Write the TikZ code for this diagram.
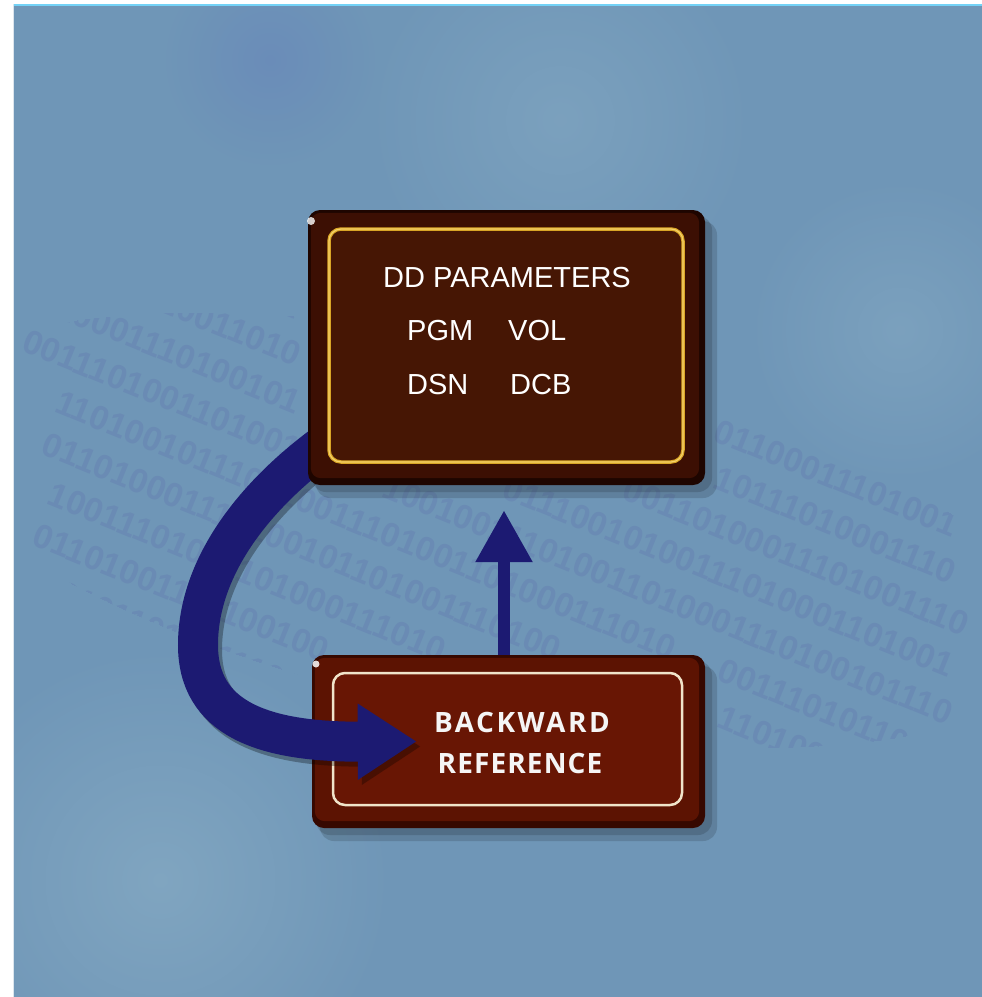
\documentclass[tikz,border=0pt]{standalone}
\usepackage{fontspec}
\setmainfont{Liberation Sans}
\newfontfamily\plaquewide[LetterSpace=9]{Open Sans}
\newfontfamily\plaquenarrow[LetterSpace=4]{Open Sans}
\usetikzlibrary{arrows.meta}

\definecolor{bgblue}{HTML}{6F96B7}
\definecolor{bglight}{HTML}{80A5C0}
\definecolor{bgdark}{HTML}{6A8CB8}
\definecolor{digitc}{HTML}{6A8BB4}
\definecolor{navy}{HTML}{1C1A72}
\definecolor{tbedge}{HTML}{1E0500}
\definecolor{tbface}{HTML}{3C0F03}
\definecolor{tbinner}{HTML}{461604}
\definecolor{gold}{HTML}{D9A526}
\definecolor{goldhi}{HTML}{F5D26A}
\definecolor{bbedge}{HTML}{360800}
\definecolor{bbface}{HTML}{5C1302}
\definecolor{bbinner}{HTML}{681604}
\definecolor{cream}{HTML}{F0E4CA}

\pgfdeclarelayer{front}
\pgfsetlayers{main,front}

% y of binary row #1 at abscissa #2
\newcommand{\rowy}[2]{540+40.8*#1+0.4045*(#2-(520-16.5*#1))}

\begin{document}
\begin{tikzpicture}[x=1pt,y=-1pt,
  plaque/.style={rounded corners=12pt, inner sep=0pt},
  bigarrow/.style={draw=navy, line width=40pt, -{Triangle[length=59pt,width=72pt]}},
  smallarrow/.style={draw=navy, line width=12pt, -{Triangle[length=52pt,width=54pt]}},
  plain/.style={text=white, inner sep=0pt, font=\fontsize{29}{29}\selectfont},
  plaquetext/.style={inner sep=0pt, anchor=base, text=white!92!gray},
  digits/.style={text=digitc, inner sep=0pt, rotate=-22,
                 font=\bfseries\fontsize{34}{34}\selectfont},
  boxshadow/.style={fill=black, opacity=0.14, rounded corners=14pt}]

\useasboundingbox (0,0) rectangle (982,997);
\fill[white] (0,0) rectangle (982,997);

% backdrop
\begin{scope}
  \clip (13,4) rectangle (982,997);
  \fill[bgblue] (13,4) rectangle (982,997);
  \shade[inner color=bglight, outer color=bgblue] (160,880) circle (230);
  \shade[inner color=bglight!70!bgblue, outer color=bgblue] (560,120) circle (190);
  \shade[inner color=bglight!70!bgblue, outer color=bgblue] (900,330) circle (150);
  \shade[inner color=bgdark, outer color=bgblue] (270,60) circle (110);

  % faint binary texture, split so that no digits sit under the plaques
  \clip[rotate around={-12:(480,530)}] (480,530) ellipse (580 and 185);
  \foreach \k/\x/\s [count=\i] in {
    -5/300/1001110100100111,
    -4/300/0011010010011101,
    -3/300/1110010011010001,
    -2/300/0100111010011010,
    -1/300/1010001110100101,
     0/300/0011101001101001,
     1/675/110100101110010011101001101000111010,
     2/560/011010001110100101101001110100,
     3/445/10011101001101000111010,
     4/328/01101001110100100,
     5/300/1001011010011101,
     6/300/0111010011010010}
    \node[digits, anchor=east] (left\i) at (\x,{\rowy{\k}{\x}}) {\s};
  \foreach \k/\x/\s [count=\i] in {
    -4/716/01100011101001,
    -3/716/10111010001110,
     -2/625/00110100011101001110,
    -1/505/01110010100111010001101001,
     0/385/100100111010011010001110100101110,
     1/720/00111010110001,
     2/720/11010011101001,
     3/720/01001110101100,
     4/720/10100111010011}
    \node[digits, anchor=west] (right\i) at (\x,{\rowy{\k}{\x}}) {\s};
\end{scope}
\draw[cyan!55!white, line width=1.5pt] (13,4.75) -- (982,4.75);
\draw[white!75!bgblue, line width=1pt] (13.5,4) -- (13.5,997);

% lower plaque
\fill[boxshadow] (320,666) rectangle (717,841);
\fill[boxshadow] (316,661) rectangle (712,835);
\node[plaque, fill=bbedge, minimum width=393pt, minimum height=173pt] (bb) at (508.5,741.5) {};
\fill[bbface, rounded corners=10pt] ([shift={(3,3)}]bb.north west) rectangle ([shift={(-6,-7)}]bb.south east);
\draw[cream, line width=2.5pt, fill=bbinner, rounded corners=12pt] (333,673) rectangle (682,805);
\fill[white, opacity=0.85] (316,664) circle (3.5);

% upper plaque, kept on the front layer so it covers the start of the curved arrow
\begin{pgfonlayer}{front}
  \fill[boxshadow] (316,221) rectangle (717,498);
  \fill[boxshadow] (312,216) rectangle (712,492);
  \node[plaque, fill=tbedge, minimum width=397pt, minimum height=275pt] (tb) at (506.5,347.5) {};
  \fill[tbface, rounded corners=10pt] ([shift={(3,3)}]tb.north west) rectangle ([shift={(-6,-7)}]tb.south east);
  \draw[gold, line width=3.5pt, fill=tbinner, rounded corners=12pt] (329,229) rectangle (683,462);
  \draw[goldhi, line width=1.2pt, rounded corners=12pt] (329,229) rectangle (683,462);
  \fill[white, opacity=0.8] (311,221) circle (4);
  \node[plain, anchor=base] (ddp) at (507,287) {DD PARAMETERS};
  \node[plain, anchor=base west] (pgm) at (407,340) {PGM};
  \node[plain, anchor=base west] (vol) at (508,340) {VOL};
  \node[plain, anchor=base west] (dsn) at (407,394) {DSN};
  \node[plain, anchor=base west] (dcb) at (510,394) {DCB};
\end{pgfonlayer}

% upward arrow between the plaques
\coordinate (ax) at (504,0);
\draw[smallarrow, shorten >=25pt] (bb.north -| ax) -- (tb.south -| ax);

% curved arrow from the upper plaque round to the lower one
\begin{scope}[transform canvas={shift={(4,5)}}]
  \draw[bigarrow, draw=black, opacity=0.3]
    ([shift={(14,-39)}]tb.south west) .. controls (250,500) and (198,570) .. (198,645)
    .. controls (198,718) and (262,742) .. ([xshift=105pt]bb.west);
\end{scope}
\draw[bigarrow]
  ([shift={(14,-39)}]tb.south west) .. controls (250,500) and (198,570) .. (198,645)
  .. controls (198,718) and (262,742) .. ([xshift=105pt]bb.west);

% lower plaque caption
\node[plaquetext, font=\plaquewide\bfseries\fontsize{28}{28}\selectfont] (bw) at (522,732) {BACKWARD};
\node[plaquetext, font=\plaquenarrow\bfseries\fontsize{28}{28}\selectfont] (rf) at (520,773) {REFERENCE};

\end{tikzpicture}
\end{document}
